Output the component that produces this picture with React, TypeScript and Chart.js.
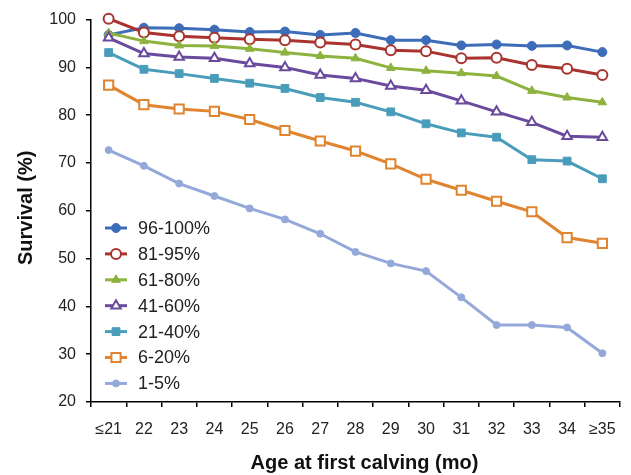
import React, { useEffect, useRef } from "react";
import { Chart, registerables } from "chart.js";
import { drawPoint } from "chart.js/helpers";

Chart.register(...registerables);

const categories = ["≤21", "22", "23", "24", "25", "26", "27", "28", "29", "30", "31", "32", "33", "34", "≥35"];
const yTicks = [20, 30, 40, 50, 60, 70, 80, 90, 100];
const xTitle = "Age at first calving (mo)";
const yTitle = "Survival (%)";

const s96_100 = [96.8, 98.3, 98.2, 97.9, 97.4, 97.5, 96.8, 97.2, 95.7, 95.7, 94.6, 94.8, 94.5, 94.6, 93.2];
const s81_95 = [100.2, 97.3, 96.5, 96.2, 95.9, 95.7, 95.2, 94.8, 93.6, 93.4, 91.9, 92.0, 90.5, 89.7, 88.4];
const s61_80 = [97.2, 95.5, 94.6, 94.5, 93.9, 93.1, 92.4, 91.9, 89.9, 89.3, 88.8, 88.2, 85.1, 83.7, 82.7];
const s41_60 = [96.2, 92.9, 92.2, 91.9, 90.8, 90.0, 88.4, 87.7, 86.1, 85.2, 83.0, 80.7, 78.5, 75.6, 75.4];
const s21_40 = [93.1, 89.6, 88.7, 87.7, 86.7, 85.6, 83.7, 82.7, 80.7, 78.2, 76.3, 75.4, 70.7, 70.4, 66.7];
const s6_20 = [86.3, 82.2, 81.3, 80.8, 79.1, 76.8, 74.6, 72.5, 69.8, 66.6, 64.3, 62.0, 59.8, 54.4, 53.2];
const s1_5 = [72.7, 69.4, 65.7, 63.1, 60.5, 58.2, 55.2, 51.4, 49.0, 47.4, 41.9, 36.1, 36.1, 35.6, 30.2];

const seriesLabels = ["96-100%", "81-95%", "61-80%", "41-60%", "21-40%", "6-20%", "1-5%"];
const seriesValues = [s96_100, s81_95, s61_80, s41_60, s21_40, s6_20, s1_5];
const seriesColors = ["#3D6CB8", "#A9332D", "#8DB33E", "#6A4A9C", "#4A9DBA", "#E0842F", "#95A8DA"];
const seriesPointStyles = ["circle", "circle", "triangle", "triangle", "rect", "rect", "circle"];
const seriesPointRadius = [4.5, 5, 5, 5.5, 5.5, 6.5, 3.5];
const seriesOpen = [false, true, false, true, false, true, false];

const FONT = "'Liberation Sans', Arial, sans-serif";

const decorPlugin = {
  id: "decor",
  afterDraw(chart: any) {
    const ctx = chart.ctx;
    const area = chart.chartArea;
    const x0 = area.left + 14;
    const x1 = area.left + 36;
    const tx = area.left + 47;
    const y0 = 228;
    const step = 25.9;
    ctx.save();
    seriesLabels.forEach((label, i) => {
      const y = y0 + i * step;
      const color = seriesColors[i];
      ctx.strokeStyle = color;
      ctx.lineWidth = 3;
      ctx.beginPath();
      ctx.moveTo(x0, y);
      ctx.lineTo(x1, y);
      ctx.stroke();
      ctx.fillStyle = seriesOpen[i] ? "#ffffff" : color;
      ctx.strokeStyle = color;
      ctx.lineWidth = seriesOpen[i] ? 2 : 1;
      drawPoint(ctx, { pointStyle: seriesPointStyles[i], radius: seriesPointRadius[i], rotation: 0, borderWidth: seriesOpen[i] ? 2 : 1 }, (x0 + x1) / 2, y);
      ctx.fillStyle = "#222222";
      ctx.font = `18px ${FONT}`;
      ctx.textAlign = "left";
      ctx.textBaseline = "middle";
      ctx.fillText(label, tx, y + 1);
    });

    // axis titles
    ctx.fillStyle = "#111111";
    ctx.font = `bold 20px ${FONT}`;
    ctx.textAlign = "center";
    ctx.textBaseline = "middle";
    ctx.fillText(xTitle, (area.left + area.right) / 2 + 9, 463);
    ctx.translate(26, (area.top + area.bottom) / 2 - 3);
    ctx.rotate(-Math.PI / 2);
    ctx.fillText(yTitle, 0, 0);
    ctx.restore();
  },
};

export default function App() {
  const ref = useRef<HTMLCanvasElement | null>(null);

  useEffect(() => {
    if (!ref.current) return;
    const datasets = seriesLabels.map((label, i) => ({
      label,
      data: seriesValues[i],
      borderColor: seriesColors[i],
      backgroundColor: seriesOpen[i] ? "#ffffff" : seriesColors[i],
      pointBackgroundColor: seriesOpen[i] ? "#ffffff" : seriesColors[i],
      pointBorderColor: seriesColors[i],
      pointBorderWidth: seriesOpen[i] ? 2 : 1,
      pointStyle: seriesPointStyles[i],
      pointRadius: seriesPointRadius[i],
      borderWidth: 3,
      tension: 0,
      fill: false,
      clip: false as any,
      order: seriesLabels.length - i,
    }));

    const chart = new Chart(ref.current, {
      type: "line",
      data: { labels: categories, datasets },
      plugins: [decorPlugin],
      options: {
        animation: false,
        responsive: true,
        maintainAspectRatio: false,
        layout: { padding: { left: 0, right: 11, top: 18, bottom: 0 } },
        plugins: {
          legend: { display: false },
          tooltip: { enabled: false },
        },
        scales: {
          x: {
            offset: true,
            grid: {
              display: true,
              offset: true,
              drawOnChartArea: false,
              drawTicks: true,
              tickLength: 5,
              color: "#000000",
              lineWidth: 1.5,
            },
            border: { display: true, color: "#000000", width: 1.5 },
            ticks: {
              color: "#222222",
              font: { size: 16, family: FONT },
              padding: 13,
              maxRotation: 0,
              autoSkip: false,
            },
            afterFit(scale: any) {
              scale.height = 73;
            },
          },
          y: {
            min: 20,
            max: 100,
            afterBuildTicks(scale: any) {
              scale.ticks = yTicks.map((v) => ({ value: v }));
            },
            grid: {
              display: true,
              drawOnChartArea: false,
              drawTicks: true,
              tickLength: 5,
              color: "#000000",
              lineWidth: 1.5,
            },
            border: { display: true, color: "#000000", width: 1.5 },
            ticks: {
              color: "#222222",
              font: { size: 16, family: FONT },
              padding: 10,
            },
            afterFit(scale: any) {
              scale.width = 91;
            },
          },
        },
      },
    });
    return () => chart.destroy();
  }, []);

  return (
    <div style={{ position: "absolute", left: 0, top: 0, width: 631, height: 475, background: "#ffffff" }}>
      <canvas ref={ref} />
    </div>
  );
}
